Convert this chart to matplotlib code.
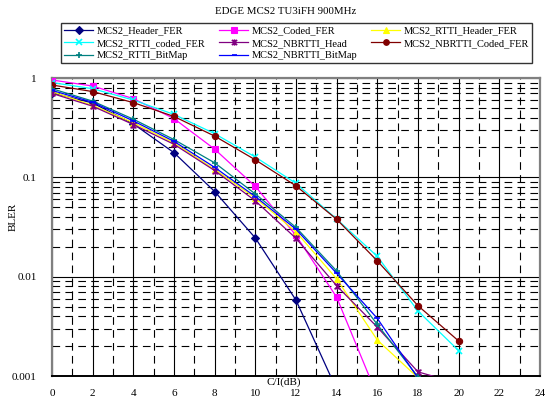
import matplotlib
matplotlib.use("Agg")
import matplotlib.pyplot as plt
from matplotlib.path import Path
from matplotlib.ticker import FixedLocator, NullFormatter

plt.rcParams['font.family'] = ['Liberation Serif', 'DejaVu Serif']
plt.rcParams['lines.scale_dashes'] = False

title = "EDGE MCS2 TU3iFH 900MHz"
x_label = "C/I(dB)"
y_label = "BLER"

x_all = [0, 2, 4, 6, 8, 10, 12, 14, 16, 18, 20]

header_fer = [0.71, 0.56, 0.345, 0.177, 0.072, 0.0245, 0.0058, 0.00073]
coded_fer = [0.955, 0.83, 0.62, 0.39, 0.192, 0.081, 0.026, 0.0062, 0.00063]
rtti_header_fer = [0.73, 0.53, 0.355, 0.222, 0.12, 0.062, 0.0283, 0.0095, 0.0023, 0.00096]
rtti_coded_fer = [0.9, 0.78, 0.6, 0.43, 0.275, 0.16, 0.087, 0.038, 0.016, 0.0045, 0.0018]
nbrtti_head = [0.7, 0.52, 0.34, 0.215, 0.117, 0.058, 0.0243, 0.0081, 0.0031, 0.0011, 0.00084]
nbrtti_coded_fer = [0.85, 0.73, 0.565, 0.41, 0.26, 0.15, 0.082, 0.0378, 0.0144, 0.0051, 0.00225]
rtti_bitmap = [0.78, 0.585, 0.385, 0.24, 0.14, 0.068, 0.0313, 0.0114, 0.0033, 0.00098]
nbrtti_bitmap = [0.75, 0.57, 0.37, 0.23, 0.126, 0.064, 0.030, 0.0108, 0.0038, 0.00095]

x_ticks = [0, 2, 4, 6, 8, 10, 12, 14, 16, 18, 20, 22, 24]
y_ticks = [0.001, 0.01, 0.1, 1]
y_tick_labels = ["0.001", "0.01", "0.1", "1"]

star = Path([(-1, -1), (1, 1), (-1, 1), (1, -1), (0, -1.2), (0, 1.2)],
            [Path.MOVETO, Path.LINETO, Path.MOVETO, Path.LINETO, Path.MOVETO, Path.LINETO])

series = [
    ("MCS2_Header_FER", header_fer, "#000080", "D", 4.0),
    ("MCS2_Coded_FER", coded_fer, "#FF00FF", "s", 4.5),
    ("MCS2_RTTI_Header_FER", rtti_header_fer, "#FFFF00", "^", 5),
    ("MCS2_RTTI_coded_FER", rtti_coded_fer, "#00FFFF", "x", 4.5),
    ("MCS2_NBRTTI_Head", nbrtti_head, "#800080", star, 5),
    ("MCS2_NBRTTI_Coded_FER", nbrtti_coded_fer, "#800000", "o", 4.5),
    ("MCS2_RTTI_BitMap", rtti_bitmap, "#008080", "+", 5),
    ("MCS2_NBRTTI_BitMap", nbrtti_bitmap, "#0000FF", "_", 4),
]

fig = plt.figure(figsize=(5.47, 4.0), dpi=100)
ax = fig.add_axes([52/547, 1-376/400, (540-52)/547, (376-78)/400])

handles = {}
for name, vals, col, mk, ms in series:
    lined = not isinstance(mk, str) or mk in ("x", "+", "_")
    h, = ax.plot(x_all[:len(vals)], vals, color=col, marker=mk, markersize=ms,
                 markeredgewidth=1.2 if lined else 0.8,
                 markerfacecolor='none' if lined else col,
                 markeredgecolor=col, lw=0.9, zorder=3)
    handles[name] = h

ax.set_yscale('log')
ax.set_xlim(0, 24)
ax.set_ylim(0.001, 1)
ax.xaxis.set_major_locator(FixedLocator(x_ticks))
ax.xaxis.set_minor_locator(FixedLocator([1, 3, 5, 7, 9, 11, 13, 15, 17, 19, 21, 23]))
ax.set_yticks(y_ticks)
ax.set_yticklabels(y_tick_labels)
ax.yaxis.set_minor_formatter(NullFormatter())

ax.grid(which='major', color='black', lw=0.8, ls='-', zorder=1)
ax.grid(which='minor', color='black', lw=0.8, ls=(0, (5.5, 3.8)), zorder=1)

ax.tick_params(axis='x', which='both', length=0, pad=9, labelsize=8)
ax.tick_params(axis='y', which='major', length=0, pad=11, labelsize=8)
ax.tick_params(axis='y', which='minor', length=0)

for s in ['left', 'top', 'right']:
    ax.spines[s].set_color('#808080')
    ax.spines[s].set_linewidth(1.6)
ax.spines['bottom'].set_color('black')
ax.spines['bottom'].set_linewidth(1.4)

ax.text(11.4, -0.022, x_label, transform=ax.get_xaxis_transform(),
        ha='center', va='center', fontsize=8, clip_on=False)
fig.text(13/547, 1-217/400, y_label, rotation=90, ha='center', va='center', fontsize=8)
fig.text(286/547, 1-12/400, title, ha='center', va='center', fontsize=7.8)

order = ["MCS2_Header_FER", "MCS2_RTTI_coded_FER", "MCS2_RTTI_BitMap",
         "MCS2_Coded_FER", "MCS2_NBRTTI_Head", "MCS2_NBRTTI_BitMap",
         "MCS2_RTTI_Header_FER", "MCS2_NBRTTI_Coded_FER"]
leg = fig.legend([handles[n] for n in order], order, ncol=3, loc='upper left',
                 bbox_to_anchor=(61/547, 1-67/400, (532-61)/547, (67-23)/400),
                 mode='expand', fontsize=7.5, frameon=True, fancybox=False,
                 edgecolor='black', borderaxespad=0, handlelength=2.8,
                 handletextpad=0.3, labelspacing=0.3, borderpad=0.3,
                 columnspacing=1.0, markerscale=0.9)
leg.get_frame().set_linewidth(1.0)

fig.savefig("out.png", dpi=100)
